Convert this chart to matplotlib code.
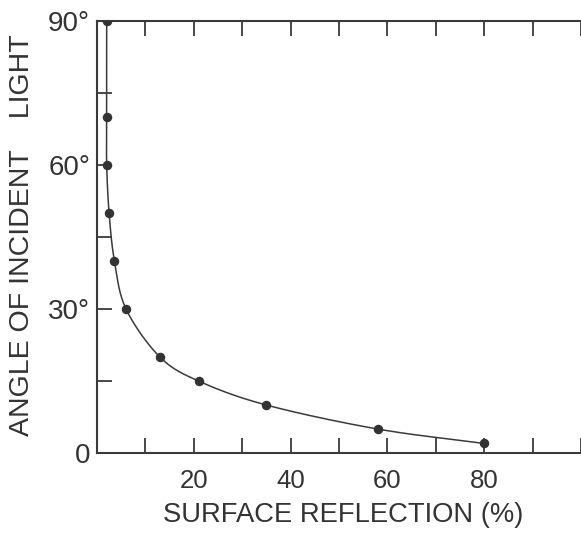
import numpy as np
import matplotlib.pyplot as plt
from matplotlib.ticker import MultipleLocator, FixedLocator

plt.rcParams['font.family'] = ['Liberation Sans', 'DejaVu Sans']

# data
reflection = [2, 2, 2, 2.5, 3.6, 6, 13, 21, 35, 58, 80]
angle = [90, 70, 60, 50, 40, 30, 20, 15, 10, 5, 2]

x_major = [20, 40, 60, 80]
x_major_labels = ['20', '40', '60', '80']
y_major = [0, 30, 60, 90]
y_major_labels = ['0', '30°', '60°', '90°']

ink = '#3a3a3a'
text_col = '#333333'


def smooth(xs, ys, n=30):
    # Catmull-Rom path through the points, just for drawing the curve
    p = np.column_stack([xs, ys]).astype(float)
    p = np.vstack([p[0] * 2 - p[1], p, p[-1] * 2 - p[-2]])
    out = []
    t = np.linspace(0, 1, n)[:, None]
    for i in range(1, len(p) - 2):
        p0, p1, p2, p3 = p[i - 1], p[i], p[i + 1], p[i + 2]
        seg = 0.5 * ((2 * p1) + (-p0 + p2) * t + (2 * p0 - 5 * p1 + 4 * p2 - p3) * t ** 2
                     + (-p0 + 3 * p1 - 3 * p2 + p3) * t ** 3)
        out.append(seg)
    c = np.vstack(out)
    return c[:, 0], c[:, 1]


fig = plt.figure(figsize=(5.81, 5.33), dpi=100)
ax = fig.add_axes([97 / 581, 0.150, 1 - 97 / 581, 0.8106])

cx, cy = smooth(reflection, angle)
ax.plot(cx, cy, color=ink, linewidth=1.1)
ax.scatter(reflection, angle, s=34, color=text_col, zorder=3)

ax.set_xlim(0, 100)
ax.set_ylim(0, 90)

ax.xaxis.set_major_locator(FixedLocator(x_major))
ax.set_xticklabels(x_major_labels)
ax.xaxis.set_minor_locator(MultipleLocator(10))
ax.yaxis.set_major_locator(FixedLocator(y_major))
ax.set_yticklabels(y_major_labels)
ax.yaxis.set_minor_locator(MultipleLocator(15))

ax.tick_params(which='both', direction='in', length=11, width=1.3, color=ink,
               top=True, labelcolor=text_col)
ax.tick_params(axis='x', labelsize=18.5, pad=11.5)
ax.tick_params(axis='y', labelsize=20, pad=5)

for side in ['left', 'bottom', 'top']:
    ax.spines[side].set_color(ink)
    ax.spines[side].set_linewidth(1.5)
ax.spines['right'].set_visible(False)

fig.text(343 / 581, 1 - 522 / 533, 'SURFACE REFLECTION (%)', fontsize=19.7,
         color=text_col, ha='center', va='baseline')
fig.text(22 / 581, 1 - 235 / 533, 'ANGLE OF INCIDENT    LIGHT', fontsize=20.5,
         color=text_col, rotation=90, ha='center', va='center')

fig.savefig('out.png', dpi=100)
